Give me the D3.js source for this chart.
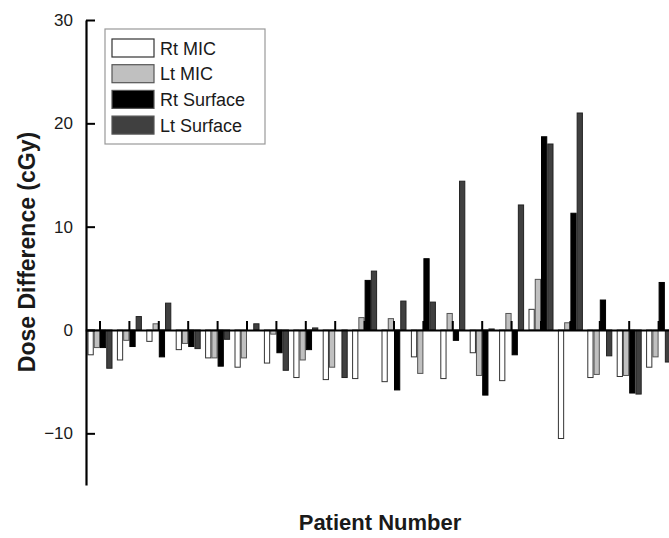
<!DOCTYPE html>
<html>
<head>
<meta charset="utf-8">
<script src="https://cdn.jsdelivr.net/npm/d3@7"></script>
<style>
  html, body { margin: 0; padding: 0; background: #fff; }
  svg { display: block; }
  text { font-family: "Liberation Sans", Arial, sans-serif; fill: #1a1a1a; }
</style>
</head>
<body>
<svg id="chart" width="669" height="538"></svg>
<script>
// ---- data ----
const patients = d3.range(1, 21).map(String);
const seriesNames = ["Rt MIC", "Lt MIC", "Rt Surface", "Lt Surface"];
const rtMIC     = [-2.4, -2.9, -1.1, -1.9, -2.7, -3.6, -3.2, -4.6, -4.8, -4.7, -5.0, -2.6, -4.7, -2.2, -4.9, 2.0, -10.5, -4.6, -4.5, -3.6];
const ltMIC     = [-1.7, -1.0, 0.6, -1.3, -2.7, -2.7, -0.4, -2.9, -3.6, 1.2, 1.1, -4.2, 1.6, -4.4, 1.6, 4.9, 0.7, -4.3, -4.4, -2.6];
const rtSurface = [-1.7, -1.6, -2.6, -1.6, -3.5, 0.0, -2.2, -1.9, 0.0, 4.8, -5.8, 6.9, -1.0, -6.3, -2.4, 18.7, 11.3, 2.9, -6.1, 4.6];
const ltSurface = [-3.7, 1.3, 2.6, -1.8, -0.9, 0.6, -3.9, 0.2, -4.6, 5.7, 2.8, 2.7, 14.4, 0.1, 12.1, 18.0, 21.0, -2.5, -6.2, -3.1];
const yTicks = [-10, 0, 10, 20, 30];

const seriesValues = [rtMIC, ltMIC, rtSurface, ltSurface];
const fills   = ["#ffffff", "#c0c0c0", "#000000", "#404040"];
const strokes = ["#333333", "#555555", "#000000", "#222222"];

const svg = d3.select("#chart");
const axisX = 86;

const y = d3.scaleLinear().domain([-15, 30]).range([485, 20]);
const x = d3.scaleBand().domain(patients).range([85.3, 85.3 + 20 * 29.4]).paddingInner(0).paddingOuter(0);
const groupW = 25;
const xs = d3.scaleBand().domain(seriesNames).range([-groupW / 2, groupW / 2]);

// bars
const rows = patients.map((p, i) => ({ p, vals: seriesValues.map(s => s[i]) }));
const g = svg.append("g");
const groups = g.selectAll("g.grp").data(rows).join("g")
  .attr("transform", d => `translate(${x(d.p) + x.bandwidth() / 2},0)`);
groups.selectAll("rect").data(d => d.vals.map((v, k) => ({ v, k }))).join("rect")
  .attr("x", d => xs(seriesNames[d.k]) + 0.5)
  .attr("width", xs.bandwidth() - 1)
  .attr("y", d => y(Math.max(0, d.v)))
  .attr("height", d => Math.abs(y(d.v) - y(0)))
  .attr("fill", d => fills[d.k])
  .attr("stroke", d => strokes[d.k])
  .attr("stroke-width", 1);

// x axis (zero line) with upward ticks at patient centers
const xAxis = svg.append("g").attr("transform", `translate(0,${y(0)})`)
  .call(d3.axisTop(x).tickSize(9).tickSizeOuter(0).tickFormat(""));
xAxis.select(".domain").attr("stroke", "#000").attr("stroke-width", 2.2);
xAxis.selectAll(".tick line").attr("stroke", "#000").attr("stroke-width", 2);

// y axis, inward ticks
const yAxis = svg.append("g").attr("transform", `translate(${axisX},0)`)
  .call(d3.axisLeft(y).tickValues(yTicks).tickSize(-9).tickSizeOuter(0).tickPadding(13).tickFormat(d3.format("d")));
yAxis.select(".domain").attr("stroke", "#000").attr("stroke-width", 2.2);
yAxis.selectAll(".tick line").attr("stroke", "#000").attr("stroke-width", 2);
yAxis.selectAll(".tick text").attr("font-size", 17).attr("fill", "#222")
  .attr("font-family", "Liberation Sans, Arial, sans-serif");

// legend
const lg = svg.append("g");
lg.append("rect").attr("x", 105).attr("y", 29).attr("width", 160).attr("height", 115)
  .attr("fill", "#fff").attr("stroke", "#999").attr("stroke-width", 1.2);
seriesNames.forEach((name, k) => {
  const yy = 39 + k * 25.7;
  lg.append("rect").attr("x", 112).attr("y", yy).attr("width", 42).attr("height", 18)
    .attr("fill", fills[k]).attr("stroke", k === 0 ? "#333" : "#555").attr("stroke-width", 1.2);
  lg.append("text").attr("x", 160).attr("y", yy + 15.5).attr("font-size", 18).text(name);
});

// titles
svg.append("text").attr("x", 380).attr("y", 530).attr("text-anchor", "middle")
  .attr("font-size", 22).attr("font-weight", "bold").text("Patient Number");
svg.append("text").attr("transform", "translate(35,252) rotate(-90)").attr("text-anchor", "middle")
  .attr("font-size", 23).attr("font-weight", "bold").text("Dose Difference (cGy)");
</script>
</body>
</html>
